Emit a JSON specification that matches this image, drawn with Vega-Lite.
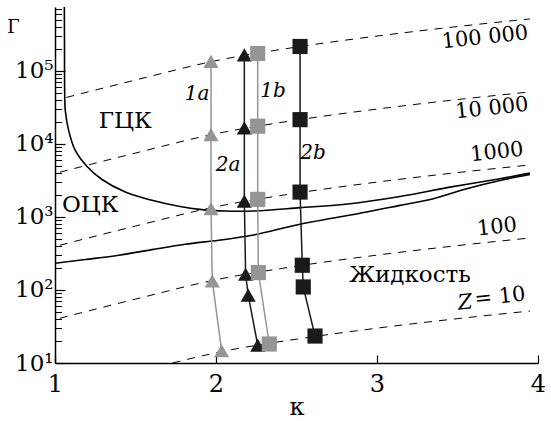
{
  "$schema": "https://vega.github.io/schema/vega-lite/v6.json",
  "width": 483,
  "height": 356,
  "autosize": "none",
  "padding": {"left": 55, "top": 7, "right": 13, "bottom": 58},
  "background": "white",
  "config": {"view": {"stroke": null}, "font": "DejaVu Serif"},
  "datasets": {
    "zlines": [
      {"z": "100000", "k": 1.07, "g": 43300}, {"z": "100000", "k": 1.5, "g": 75000}, {"z": "100000", "k": 2.0, "g": 138000}, {"z": "100000", "k": 2.5, "g": 212000}, {"z": "100000", "k": 3.0, "g": 300000}, {"z": "100000", "k": 3.5, "g": 405000}, {"z": "100000", "k": 3.95, "g": 515000},
      {"z": "10000", "k": 1.03, "g": 4100}, {"z": "10000", "k": 1.5, "g": 7500}, {"z": "10000", "k": 2.0, "g": 13800}, {"z": "10000", "k": 2.5, "g": 21200}, {"z": "10000", "k": 3.0, "g": 30000}, {"z": "10000", "k": 3.5, "g": 40500}, {"z": "10000", "k": 3.95, "g": 51500},
      {"z": "1000", "k": 1.03, "g": 410}, {"z": "1000", "k": 1.5, "g": 750}, {"z": "1000", "k": 2.0, "g": 1380}, {"z": "1000", "k": 2.5, "g": 2120}, {"z": "1000", "k": 3.0, "g": 3000}, {"z": "1000", "k": 3.5, "g": 4050}, {"z": "1000", "k": 3.95, "g": 5150},
      {"z": "100", "k": 1.03, "g": 41}, {"z": "100", "k": 1.5, "g": 75}, {"z": "100", "k": 2.0, "g": 138}, {"z": "100", "k": 2.5, "g": 212}, {"z": "100", "k": 3.0, "g": 300}, {"z": "100", "k": 3.5, "g": 405}, {"z": "100", "k": 3.95, "g": 515},
      {"z": "10", "k": 1.73, "g": 10}, {"z": "10", "k": 2.0, "g": 13.8}, {"z": "10", "k": 2.5, "g": 21.2}, {"z": "10", "k": 3.0, "g": 30}, {"z": "10", "k": 3.5, "g": 40.5}, {"z": "10", "k": 3.95, "g": 51.5}
    ],
    "curves": [
      {"c": "fcc-bcc", "i": 0, "k": 1.058, "g": 750000}, {"c": "fcc-bcc", "i": 1, "k": 1.059, "g": 200000}, {"c": "fcc-bcc", "i": 2, "k": 1.060, "g": 53700}, {"c": "fcc-bcc", "i": 3, "k": 1.064, "g": 28600}, {"c": "fcc-bcc", "i": 4, "k": 1.085, "g": 15200}, {"c": "fcc-bcc", "i": 5, "k": 1.126, "g": 8130}, {"c": "fcc-bcc", "i": 6, "k": 1.199, "g": 4910}, {"c": "fcc-bcc", "i": 7, "k": 1.292, "g": 3260}, {"c": "fcc-bcc", "i": 8, "k": 1.437, "g": 2190}, {"c": "fcc-bcc", "i": 9, "k": 1.602, "g": 1690}, {"c": "fcc-bcc", "i": 10, "k": 1.768, "g": 1400}, {"c": "fcc-bcc", "i": 11, "k": 1.913, "g": 1260}, {"c": "fcc-bcc", "i": 12, "k": 2.058, "g": 1205}, {"c": "fcc-bcc", "i": 13, "k": 2.224, "g": 1205}, {"c": "fcc-bcc", "i": 14, "k": 2.522, "g": 1340}, {"c": "fcc-bcc", "i": 15, "k": 2.832, "g": 1520}, {"c": "fcc-bcc", "i": 16, "k": 3.143, "g": 1910}, {"c": "fcc-bcc", "i": 17, "k": 3.453, "g": 2560}, {"c": "fcc-bcc", "i": 18, "k": 3.764, "g": 3340}, {"c": "fcc-bcc", "i": 19, "k": 3.95, "g": 3980},
      {"c": "melt", "i": 0, "k": 1.0, "g": 232}, {"c": "melt", "i": 1, "k": 1.188, "g": 261}, {"c": "melt", "i": 2, "k": 1.396, "g": 299}, {"c": "melt", "i": 3, "k": 1.602, "g": 357}, {"c": "melt", "i": 4, "k": 1.809, "g": 423}, {"c": "melt", "i": 5, "k": 2.017, "g": 479}, {"c": "melt", "i": 6, "k": 2.224, "g": 561}, {"c": "melt", "i": 7, "k": 2.522, "g": 793}, {"c": "melt", "i": 8, "k": 2.936, "g": 1166}, {"c": "melt", "i": 9, "k": 3.143, "g": 1440}, {"c": "melt", "i": 10, "k": 3.350, "g": 1778}, {"c": "melt", "i": 11, "k": 3.557, "g": 2440}, {"c": "melt", "i": 12, "k": 3.764, "g": 3160}, {"c": "melt", "i": 13, "k": 3.95, "g": 3820}
    ],
    "series": [
      {"s": "1a", "k": 1.969, "g": 135000}, {"s": "1a", "k": 1.969, "g": 13400}, {"s": "1a", "k": 1.969, "g": 1300}, {"s": "1a", "k": 1.977, "g": 133}, {"s": "1a", "k": 2.035, "g": 14.7},
      {"s": "2a", "k": 2.176, "g": 166000}, {"s": "2a", "k": 2.176, "g": 16600}, {"s": "2a", "k": 2.176, "g": 1650}, {"s": "2a", "k": 2.184, "g": 164}, {"s": "2a", "k": 2.2, "g": 85}, {"s": "2a", "k": 2.259, "g": 17.6},
      {"s": "1b", "k": 2.259, "g": 173000}, {"s": "1b", "k": 2.259, "g": 17500}, {"s": "1b", "k": 2.259, "g": 1740}, {"s": "1b", "k": 2.263, "g": 173}, {"s": "1b", "k": 2.331, "g": 18.2},
      {"s": "2b", "k": 2.522, "g": 216000}, {"s": "2b", "k": 2.522, "g": 21500}, {"s": "2b", "k": 2.522, "g": 2190}, {"s": "2b", "k": 2.536, "g": 218}, {"s": "2b", "k": 2.542, "g": 110}, {"s": "2b", "k": 2.615, "g": 23.4}
    ],
    "regions": [
      {"t": "ГЦК", "k": 1.437, "g": 20900},
      {"t": "ОЦК", "k": 1.219, "g": 1440},
      {"t": "Жидкость", "k": 3.205, "g": 159}
    ],
    "zlabels": [
      {"t": "100 000", "k": 3.671, "g": 285000},
      {"t": "10 000", "k": 3.714, "g": 30500},
      {"t": "1000", "k": 3.745, "g": 7640},
      {"t": "100", "k": 3.745, "g": 721},
      {"t": "= 10", "k": 3.764, "g": 79.8}
    ],
    "zsym": [
      {"t": "Z", "k": 3.547, "g": 66.1}
    ],
    "serieslabels": [
      {"t": "1a", "k": 1.882, "g": 48900},
      {"t": "1b", "k": 2.354, "g": 53700},
      {"t": "2a", "k": 2.075, "g": 5070},
      {"t": "2b", "k": 2.602, "g": 7400}
    ]
  },
  "encoding": {
    "x": {
      "field": "k", "type": "quantitative",
      "scale": {"domain": [1, 4], "nice": false, "zero": false},
      "axis": {
        "values": [1, 2, 3, 4], "format": "d", "tickSize": -8, "labelPadding": 17,
        "labelFontSize": 24, "labelFont": "DejaVu Serif", "labelColor": "black",
        "labelFlush": false, "labelOverlap": false,
        "domainColor": "black", "domainWidth": 1.5, "tickColor": "black", "tickWidth": 1.2,
        "grid": false, "title": "κ", "titleFontSize": 24, "titleFontWeight": "normal",
        "titleFont": "DejaVu Serif", "titleColor": "black", "titleY": 44, "titleBaseline": "middle"
      }
    }
  },
  "layer": [
    {
      "data": {"name": "zlines"},
      "mark": {"type": "line", "strokeDash": [8, 7], "strokeWidth": 1, "color": "black", "interpolate": "monotone", "clip": true},
      "encoding": {
        "y": {
          "field": "g", "type": "quantitative",
          "scale": {"type": "log", "domain": [10, 750000], "nice": false},
          "axis": {
            "orient": "left", "values": [10, 100, 1000, 10000, 100000],
            "labelExpr": "'10' + ['¹','²','³','⁴','⁵'][round(log(datum.value)/LN10) - 1]",
            "tickSize": -10, "labelPadding": 12, "labelFontSize": 23, "labelFont": "DejaVu Serif",
            "labelColor": "black", "labelBaseline": "middle", "labelAlign": "right",
            "labelOverlap": false, "labelFlush": false,
            "domainColor": "black", "domainWidth": 1.5, "tickColor": "black", "tickWidth": 1.2,
            "grid": false, "title": "Γ", "titleAngle": 0, "titleX": -42, "titleY": 20,
            "titleFontSize": 18, "titleFontWeight": "normal", "titleFont": "DejaVu Serif",
            "titleColor": "black", "titleAlign": "center", "titleBaseline": "middle"
          }
        },
        "detail": {"field": "z"}
      }
    },
    {
      "data": {"name": "curves"},
      "mark": {"type": "line", "strokeWidth": 1.6, "color": "black", "interpolate": "catmull-rom", "clip": true},
      "encoding": {
        "y": {
          "field": "g", "type": "quantitative",
          "scale": {"type": "log", "domain": [10, 750000], "nice": false},
          "axis": {
            "orient": "left",
            "values": [20, 30, 40, 50, 60, 70, 80, 90, 200, 300, 400, 500, 600, 700, 800, 900, 2000, 3000, 4000, 5000, 6000, 7000, 8000, 9000, 20000, 30000, 40000, 50000, 60000, 70000, 80000, 90000, 200000, 300000, 400000, 500000, 600000, 700000],
            "labels": false, "domain": false, "tickSize": -6.5, "tickColor": "black", "tickWidth": 1,
            "title": null, "grid": false
          }
        },
        "detail": {"field": "c"},
        "order": {"field": "i", "type": "quantitative"}
      }
    },
    {
      "data": {"name": "series"},
      "mark": {"type": "line", "strokeWidth": 1.5},
      "encoding": {
        "y": {"field": "g", "type": "quantitative", "scale": {"type": "log", "domain": [10, 750000], "nice": false}, "axis": null},
        "color": {"field": "s", "type": "nominal", "scale": {"domain": ["1a", "2a", "1b", "2b"], "range": ["#959595", "#1a1a1a", "#959595", "#1a1a1a"]}, "legend": null},
        "detail": {"field": "s"},
        "order": {"field": "g", "type": "quantitative", "sort": "descending"}
      }
    },
    {
      "data": {"name": "series"},
      "mark": {"type": "point", "filled": true, "opacity": 1, "strokeWidth": 0},
      "encoding": {
        "y": {"field": "g", "type": "quantitative", "scale": {"type": "log", "domain": [10, 750000], "nice": false}, "axis": null},
        "color": {"field": "s", "type": "nominal", "scale": {"domain": ["1a", "2a", "1b", "2b"], "range": ["#8a8a8a", "#1a1a1a", "#8a8a8a", "#1a1a1a"]}, "legend": null},
        "shape": {"field": "s", "type": "nominal", "scale": {"domain": ["1a", "2a", "1b", "2b"], "range": ["triangle-up", "triangle-up", "square", "square"]}, "legend": null},
        "size": {"field": "s", "type": "ordinal", "scale": {"domain": ["1a", "2a", "1b", "2b"], "range": [230, 230, 130, 130]}, "legend": null}
      }
    },
    {
      "data": {"name": "regions"},
      "mark": {"type": "text", "fontSize": 23, "font": "DejaVu Serif", "color": "black", "baseline": "middle", "align": "center"},
      "encoding": {
        "y": {"field": "g", "type": "quantitative", "scale": {"type": "log", "domain": [10, 750000], "nice": false}, "axis": null},
        "text": {"field": "t"}
      }
    },
    {
      "data": {"name": "zlabels"},
      "mark": {"type": "text", "fontSize": 21, "font": "DejaVu Serif", "color": "black", "baseline": "middle", "align": "center", "angle": -6},
      "encoding": {
        "y": {"field": "g", "type": "quantitative", "scale": {"type": "log", "domain": [10, 750000], "nice": false}, "axis": null},
        "text": {"field": "t"}
      }
    },
    {
      "data": {"name": "zsym"},
      "mark": {"type": "text", "fontSize": 21, "font": "DejaVu Serif", "fontStyle": "italic", "color": "black", "baseline": "middle", "align": "center", "angle": -6},
      "encoding": {
        "y": {"field": "g", "type": "quantitative", "scale": {"type": "log", "domain": [10, 750000], "nice": false}, "axis": null},
        "text": {"field": "t"}
      }
    },
    {
      "data": {"name": "serieslabels"},
      "mark": {"type": "text", "fontSize": 20, "font": "DejaVu Serif", "fontStyle": "italic", "color": "black", "baseline": "middle", "align": "center"},
      "encoding": {
        "y": {"field": "g", "type": "quantitative", "scale": {"type": "log", "domain": [10, 750000], "nice": false}, "axis": null},
        "text": {"field": "t"}
      }
    }
  ],
  "resolve": {"axis": {"y": "independent"}}
}
